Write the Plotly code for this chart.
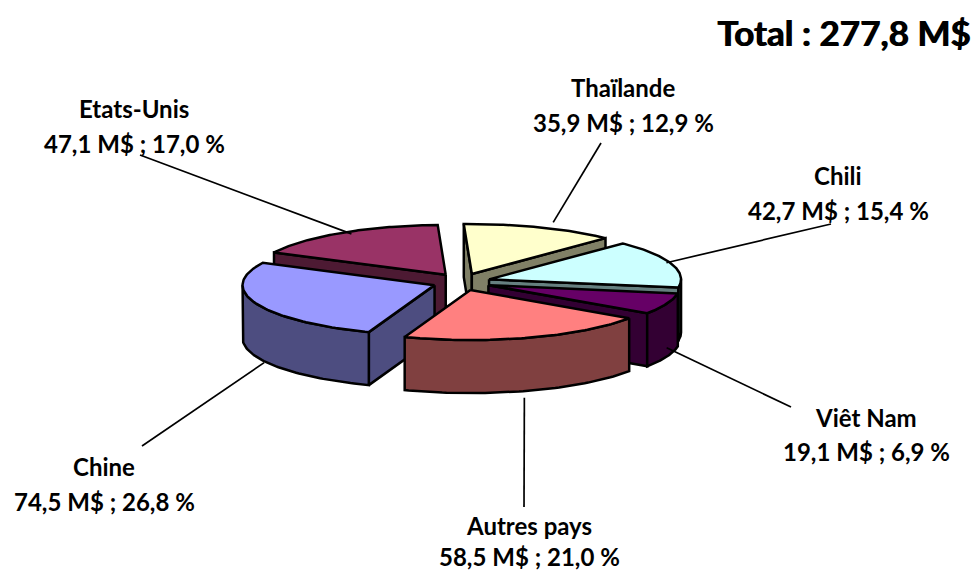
import numpy as np
import plotly.graph_objects as go

# Data (in drawing order around the pie, clockwise from the top)
names = ["Thaïlande", "Chili", "Viêt Nam", "Autres pays", "Chine", "Etats-Unis"]
values = [35.9, 42.7, 19.1, 58.5, 74.5, 47.1]
percents = [12.9, 15.4, 6.9, 21.0, 26.8, 17.0]
total_label = "Total : 277,8 M$"

# Styles
top_colors = ["#FFFFCC", "#CCFFFF", "#660066", "#FF8080", "#9999FF", "#993366"]
side_colors = ["#808066", "#668080", "#330033", "#804040", "#4D4D80", "#4D1A33"]
paint_order = [0, 5, 1, 2, 4, 3]
label_pos = [(623, 87, 122), (838, 175, 210), (866, 417, 451), (529, 525, 556), (104, 466, 501), (134, 108, 143)]
leader_end = [(601, 143), (831, 224), (791, 407), (524, 507), (142, 446), (140, 155)]
leader_nudge = [(13, -5), (-5, -1), (0, -9), (-5, 7), (8, 6), (10, 1)]
FONT = "Lato"

# Pie geometry in chart units
CX, CY, RX, RY, DEPTH = 461.5, 282, 192, 50, 53
EX, EY = 29, 8.5
START = -2.4

total = sum(values)
edges = START + np.concatenate([[0], np.cumsum(values)]) / total * 360


def rim(t, ox, oy):
    r = np.radians(t)
    return ox + RX * np.sin(r), oy - RY * np.cos(r)


fig = go.Figure()


def poly(x, y, color):
    fig.add_trace(go.Scatter(
        x=list(x) + [x[0]], y=list(y) + [y[0]], mode="lines", fill="toself",
        fillcolor=color, line=dict(color="black", width=2.5), hoverinfo="skip", showlegend=False,
    ))


annotations = []
for i in paint_order:
    a0, a1 = edges[i], edges[i + 1]
    mid = np.radians((a0 + a1) / 2)
    ox, oy = CX + EX * np.sin(mid), CY - EY * np.cos(mid)
    # radial cut faces, only those turned toward the viewer
    for a, visible in ((a0, np.sin(np.radians(a0)) < 0), (a1, np.sin(np.radians(a1)) > 0)):
        if visible:
            px, py = rim(a, ox, oy)
            poly([ox, float(px), float(px), ox], [oy, float(py), float(py) + DEPTH, oy + DEPTH], side_colors[i])
    # outer wall, visible part only
    v0, v1 = max(a0, 90), min(a1, 270)
    if v1 > v0:
        xs, ys = rim(np.linspace(v0, v1, 60), ox, oy)
        poly(list(xs) + list(xs[::-1]), list(ys) + list(ys[::-1] + DEPTH), side_colors[i])
    # top face
    xs, ys = rim(np.linspace(a0, a1, 80), ox, oy)
    poly([ox] + list(xs), [oy] + list(ys), top_colors[i])

# Leader lines start on the rim at each slice's middle angle
for i in range(len(names)):
    a0, a1 = edges[i], edges[i + 1]
    m = (a0 + a1) / 2
    r = np.radians(m)
    ox, oy = CX + EX * np.sin(r), CY - EY * np.cos(r)
    sx, sy = rim(m, ox, oy)
    if np.cos(r) < 0:
        sy += DEPTH
    ex, ey = leader_end[i]
    nx, ny = leader_nudge[i]
    fig.add_trace(go.Scatter(x=[float(sx) + nx, ex], y=[float(sy) + ny, ey], mode="lines",
                             line=dict(color="black", width=1.7), hoverinfo="skip", showlegend=False))
    lx, ly1, ly2 = label_pos[i]
    value_text = f"{values[i]:.1f} M$ ; {percents[i]:.1f} %".replace(".", ",")
    for txt, ly in ((names[i], ly1), (value_text, ly2)):
        annotations.append(dict(x=lx, y=ly, text=f"<b>{txt}</b>", showarrow=False, xanchor="center",
                                yanchor="middle", font=dict(family=FONT, size=24, color="black")))

annotations.append(dict(x=972, y=32, text=f"<b>{total_label}</b>", showarrow=False, xanchor="right",
                        yanchor="middle", font=dict(family=FONT, size=35, color="black",
                                                    shadow="1px 0 0 #000")))

fig.update_layout(
    width=973, height=571, margin=dict(l=0, r=0, t=0, b=0),
    paper_bgcolor="white", plot_bgcolor="white", showlegend=False, annotations=annotations,
    xaxis=dict(range=[0, 973], visible=False, fixedrange=True),
    yaxis=dict(range=[571, 0], visible=False, fixedrange=True),
)
fig.write_html("out.html", post_script="document.body.style.margin='0';document.documentElement.style.overflow='hidden';",
               config={"displayModeBar": False})
